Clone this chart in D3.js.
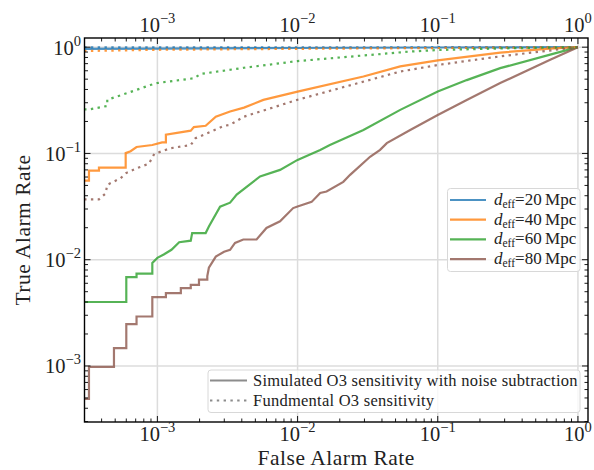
<!DOCTYPE html>
<html><head><meta charset="utf-8">
<script src="https://cdn.jsdelivr.net/npm/d3@7/dist/d3.min.js"></script>
<style>body{margin:0;background:#fff}</style>
</head><body><svg id="c" width="594" height="470"></svg>
<script>
// ---------- data ----------
const distances = [20, 40, 60, 80];
const seriesColors = ["#1f77b4", "#ff7f0e", "#2ca02c", "#8c564b"];
const styleLabels = ["Simulated O3 sensitivity with noise subtraction", "Fundmental O3 sensitivity"];
const xTickExps = [-3, -2, -1, 0];
const yTickExps = [-3, -2, -1, 0];

// [False Alarm Rate, True Alarm Rate]
const sim20 = [[3e-4,0.965],[1e-3,0.97],[1e-2,0.982],[1e-1,0.993],[1,1]];
const fund20 = [[3e-4,0.995],[1e-2,0.998],[1,1]];
const sim40 = [[3e-4,0.0556],[3.25e-4,0.0556],[3.25e-4,0.069],[3.83e-4,0.069],[3.83e-4,0.0737],[5.94e-4,0.0737],
  [5.94e-4,0.1007],[6.44e-4,0.105],[7.1e-4,0.115],[9.2e-4,0.12],[1.08e-3,0.127],[1.15e-3,0.127],[1.15e-3,0.15],
  [1.73e-3,0.164],[1.82e-3,0.177],[2.21e-3,0.182],[2.61e-3,0.222],[3.3e-3,0.248],[4.15e-3,0.27],[5.7e-3,0.319],
  [1e-2,0.382],[2.95e-2,0.53],[5.4e-2,0.66],[0.1,0.75],[0.279,0.89],[0.634,0.97],[1,1]];
const fund40 = [[3e-4,0.92],[1e-3,0.945],[1e-2,0.965],[0.1,0.982],[1,1]];
const sim60 = [[3e-4,0.004],[6.0e-4,0.004],[6.0e-4,0.00686],[7.1e-4,0.00686],[7.1e-4,0.0074],[9.2e-4,0.0074],
  [9.2e-4,0.0093],[1.0e-3,0.0104],[1.11e-3,0.0112],[1.26e-3,0.0124],[1.43e-3,0.0146],[1.73e-3,0.0151],[1.77e-3,0.0178],
  [2.21e-3,0.0178],[2.33e-3,0.0205],[2.8e-3,0.0316],[3.3e-3,0.0344],[3.68e-3,0.041],[5.4e-3,0.0608],[7.5e-3,0.07],
  [1e-2,0.087],[1.45e-2,0.108],[1.7e-2,0.12],[2.95e-2,0.166],[5.4e-2,0.257],[0.1,0.382],[0.161,0.49],[0.279,0.635],
  [0.634,0.85],[1,1]];
const fund60 = [[3e-4,0.26],[3.3e-4,0.26],[4.39e-4,0.28],[4.39e-4,0.32],[6.1e-4,0.37],[8.9e-4,0.44],[1e-3,0.46],
  [1.82e-3,0.51],[2.04e-3,0.56],[4.15e-3,0.64],[1e-2,0.74],[6.36e-2,0.91],[0.1,0.94],[0.3,0.975],[1,1]];
const sim80 = [[3e-4,0.00049],[3.25e-4,0.00049],[3.25e-4,0.00098],[4.9e-4,0.00098],[4.9e-4,0.00147],[6.0e-4,0.00147],
  [6.0e-4,0.00248],[7.1e-4,0.00248],[7.1e-4,0.00292],[9.2e-4,0.00292],[9.2e-4,0.00445],[1.15e-3,0.00445],
  [1.15e-3,0.00485],[1.47e-3,0.00485],[1.47e-3,0.0054],[1.73e-3,0.0054],[1.73e-3,0.0058],[1.98e-3,0.0058],
  [1.98e-3,0.0065],[2.27e-3,0.0065],[2.27e-3,0.007],[2.33e-3,0.0084],[2.61e-3,0.0107],[2.99e-3,0.0119],
  [3.3e-3,0.0124],[3.58e-3,0.0144],[4.1e-3,0.0155],[5.1e-3,0.0155],[6.0e-3,0.0199],[7.5e-3,0.023],[9.3e-3,0.0306],
  [1e-2,0.0317],[1.26e-2,0.035],[1.45e-2,0.0424],[1.61e-2,0.0438],[2.12e-2,0.054],[2.37e-2,0.0629],[3.29e-2,0.093],
  [3.88e-2,0.108],[4.33e-2,0.125],[6.36e-2,0.166],[0.1,0.23],[0.161,0.319],[0.279,0.459],[0.634,0.76],[1,1]];
const fund80 = [[3e-4,0.037],[3.83e-4,0.037],[4.27e-4,0.042],[4.39e-4,0.0507],[5.47e-4,0.0585],[5.94e-4,0.065],
  [7.2e-4,0.073],[8.7e-4,0.08],[9.5e-4,0.099],[1.24e-3,0.112],[1.73e-3,0.12],[1.87e-3,0.139],[2.27e-3,0.155],
  [2.99e-3,0.182],[3.3e-3,0.186],[4.15e-3,0.222],[1e-2,0.32],[5.4e-2,0.59],[0.1,0.68],[0.279,0.82],[1,1]];

const simSeries = [sim20, sim40, sim60, sim80];
const fundSeries = [fund20, fund40, fund60, fund80];

// ---------- layout ----------
const L = 84.5, R = 588, T = 38, B = 422;
const FONT = "'Liberation Serif','DejaVu Serif',serif";
const svg = d3.select("#c");
const x = d3.scaleLog().domain([3.02e-4, 1.18]).range([L, R]);
const y = d3.scaleLog().domain([2.97e-4, 1.22]).range([B, T]);

svg.append("defs").append("clipPath").attr("id","clip")
  .append("rect").attr("x",L).attr("y",T).attr("width",R-L).attr("height",B-T);

// grid
const grid = svg.append("g").attr("stroke","#dcdcdc").attr("stroke-width",1.5);
xTickExps.forEach(e => grid.append("line").attr("x1",x(10**e)).attr("x2",x(10**e)).attr("y1",T).attr("y2",B));
yTickExps.forEach(e => grid.append("line").attr("y1",y(10**e)).attr("y2",y(10**e)).attr("x1",L).attr("x2",R));

// lines
const line = d3.line().x(d => x(d[0])).y(d => y(d[1]));
const plot = svg.append("g").attr("clip-path","url(#clip)").attr("fill","none");
distances.forEach((d,i) => {
  plot.append("path").datum(simSeries[i]).attr("d",line)
    .attr("stroke",seriesColors[i]).attr("stroke-opacity",0.8).attr("stroke-width",2.2)
    .attr("stroke-linejoin","miter");
});
distances.forEach((d,i) => {
  plot.append("path").datum(fundSeries[i]).attr("d",line)
    .attr("stroke",seriesColors[i]).attr("stroke-opacity",0.8).attr("stroke-width",2.2)
    .attr("stroke-dasharray","2.4,4.4");
});

// ticks (inward on all sides)
const tk = svg.append("g").attr("stroke","#000").attr("stroke-width",0.9);
const isMajor = v => Math.abs(Math.log10(v) - Math.round(Math.log10(v))) < 1e-9;
x.ticks().forEach(v => {
  const len = isMajor(v) ? 6 : 3.5, px = x(v);
  tk.append("line").attr("x1",px).attr("x2",px).attr("y1",B).attr("y2",B-len);
  tk.append("line").attr("x1",px).attr("x2",px).attr("y1",T).attr("y2",T+len);
});
y.ticks().forEach(v => {
  const len = isMajor(v) ? 6 : 3.5, py = y(v);
  tk.append("line").attr("y1",py).attr("y2",py).attr("x1",L).attr("x2",L+len);
  tk.append("line").attr("y1",py).attr("y2",py).attr("x1",R).attr("x2",R-len);
});

// frame
svg.append("rect").attr("x",L).attr("y",T).attr("width",R-L).attr("height",B-T)
  .attr("fill","none").attr("stroke","#000").attr("stroke-width",1.4);

// tick labels
function powLabel(g, px, py, e, anchor){
  const t = g.append("text").attr("x",px).attr("y",py).attr("text-anchor",anchor)
    .attr("font-family",FONT).attr("font-size",20.5).attr("fill","#222");
  t.append("tspan").text("10");
  t.append("tspan").attr("dy",-9).attr("font-size",14.5).text(e < 0 ? "\u2212" + (-e) : String(e));
}
const lab = svg.append("g");
xTickExps.forEach(e => {
  powLabel(lab, x(10**e), 440.5, e, "middle");
  powLabel(lab, x(10**e), 32, e, "middle");
});
yTickExps.forEach(e => powLabel(lab, 81, y(10**e)+7.5, e, "end"));

// axis titles
svg.append("text").attr("x",(L+R)/2).attr("y",465).attr("text-anchor","middle")
  .attr("font-family",FONT).attr("font-size",21.5).attr("letter-spacing",0.5).attr("fill","#222").text("False Alarm Rate");
svg.append("text").attr("transform",`translate(30,${(T+B)/2}) rotate(-90)`).attr("text-anchor","middle")
  .attr("font-family",FONT).attr("font-size",21.5).attr("letter-spacing",0.5).attr("fill","#222").text("True Alarm Rate");

// legend 1: distances
const lg1 = svg.append("g");
lg1.append("rect").attr("x",447.5).attr("y",188.5).attr("width",132.5).attr("height",83).attr("rx",3)
  .attr("fill","#fff").attr("fill-opacity",0.8).attr("stroke","#d8d8d8").attr("stroke-width",1);
distances.forEach((d,i) => {
  const cy = 200 + i*19.7;
  lg1.append("line").attr("x1",450).attr("x2",486).attr("y1",cy).attr("y2",cy)
    .attr("stroke",seriesColors[i]).attr("stroke-opacity",0.8).attr("stroke-width",2.2);
  const t = lg1.append("text").attr("x",494).attr("y",cy+5).attr("font-family",FONT)
    .attr("font-size",17).attr("fill","#222");
  t.append("tspan").attr("font-style","italic").text("d");
  t.append("tspan").attr("font-size",11.5).attr("dy",3).text("eff");
  t.append("tspan").attr("dy",-3).text("=" + d + "\u2009Mpc");
});

// legend 2: line styles
const lg2 = svg.append("g");
lg2.append("rect").attr("x",208).attr("y",370).attr("width",372).attr("height",42.5).attr("rx",3)
  .attr("fill","#fff").attr("fill-opacity",0.8).attr("stroke","#d8d8d8").attr("stroke-width",1);
styleLabels.forEach((s,i) => {
  const cy = 380.5 + i*20;
  const ln = lg2.append("line").attr("x1",210).attr("x2",247).attr("y1",cy).attr("y2",cy)
    .attr("stroke","#7f7f7f").attr("stroke-opacity",0.9).attr("stroke-width",2.2);
  if (i === 1) ln.attr("stroke-dasharray","2.4,4.4");
  lg2.append("text").attr("x",253).attr("y",cy+5).attr("font-family",FONT)
    .attr("font-size",16.5).attr("letter-spacing",0.25).attr("fill","#222").text(s);
});
</script></body></html>
